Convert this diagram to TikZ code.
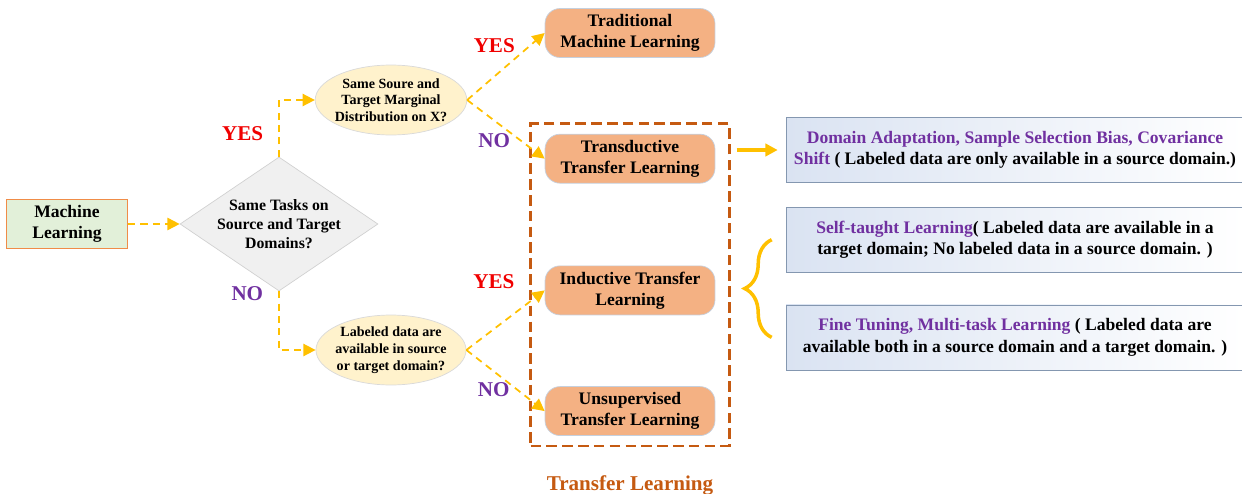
\documentclass[tikz,border=0pt]{standalone}
\usepackage{fontspec}
\setmainfont{Liberation Serif}
\usetikzlibrary{arrows.meta,positioning,shapes.geometric,fit,decorations.pathreplacing}

\definecolor{flowyellow}{HTML}{FFC000}
\definecolor{boxorange}{HTML}{F4B183}
\definecolor{boxedge}{HTML}{C5D0DE}
\definecolor{mlgreen}{HTML}{E2F0D9}
\definecolor{mledge}{HTML}{F08C48}
\definecolor{askyellow}{HTML}{FFF2CC}
\definecolor{tlbrown}{HTML}{C55A11}
\definecolor{yesred}{HTML}{F00000}
\definecolor{nopurple}{HTML}{7030A0}
\definecolor{noteblue}{HTML}{DAE3F2}
\definecolor{noteedge}{HTML}{8497B0}

\begin{document}
\begin{tikzpicture}[x=0.02cm,y=-0.02cm,>={Triangle[length=7pt,width=7pt]},
    base/.style={font=\bfseries\fontsize{10}{12}\selectfont,align=center},
    mlbox/.style={base,rectangle,draw=mledge,line width=0.8pt,fill=mlgreen,
        minimum width=2.42cm,minimum height=0.98cm},
    decision/.style={diamond,draw=black!18,fill=black!6,inner sep=0pt,shape aspect=1.48,
        minimum width=3.96cm,minimum height=2.68cm,
        font=\bfseries\fontsize{9}{11}\selectfont,align=center},
    ask/.style={ellipse,draw=black!15,fill=askyellow,inner sep=-1.5pt,
        minimum width=2.96cm,minimum height=1.4cm,
        font=\bfseries\fontsize{8}{9.5}\selectfont,align=center},
    learn/.style={base,rectangle,rounded corners=0.3cm,draw=boxedge,fill=boxorange,
        minimum width=3.4cm,minimum height=0.98cm},
    note/.style={base,rectangle,draw=noteedge,left color=noteblue,right color=white,
        minimum width=9.16cm,minimum height=1.3cm},
    frame/.style={draw=tlbrown,line width=1.6pt,dash pattern=on 6pt off 3pt,
        inner xsep=0.28cm,inner ysep=0.2cm},
    flow/.style={->,draw=flowyellow,line width=1pt,dash pattern=on 4pt off 3pt},
    yes/.style={text=yesred,font=\bfseries\fontsize{12}{14}\selectfont,inner sep=0pt},
    no/.style={text=nopurple,font=\bfseries\fontsize{12}{14}\selectfont,inner sep=0pt}]

  \useasboundingbox (0,0) rectangle (1242,494);

  \node[mlbox]    (ml)    at (67,224)  {Machine\\Learning};
  \node[decision] (task)  at (279,224) {Same Tasks on\\Source and Target\\Domains?};
  \node[ask]      (q1)    at (391,100) {Same Soure and\\Target Marginal\\Distribution on X?};
  \node[ask]      (q2)    at (391,350) {Labeled data are\\available in source\\or target domain?};

  \node[learn] (trad)  at (630,33)         {Traditional\\Machine Learning};
  \node[learn] (trans) [below=1.52cm of trad]  {Transductive\\Transfer Learning};
  \node[learn] (ind)   [below=1.64cm of trans] {Inductive Transfer\\Learning};
  \node[learn] (uns)   [below=1.42cm of ind]   {Unsupervised\\Transfer Learning};

  \node[frame,fit=(trans)(uns)] (tl) {};
  \node[text=tlbrown,font=\bfseries\fontsize{12}{14}\selectfont,inner sep=0pt]
      (tllabel) [below=0.56cm of tl] {Transfer Learning};

  \node[note] (da) at (1015,150)
      {\textcolor{nopurple}{Domain Adaptation, Sample Selection Bias, Covariance}\\
       \textcolor{nopurple}{Shift} ( Labeled data are only available in a source domain.)};
  \node[note] (st) [below=0.48cm of da]
      {\textcolor{nopurple}{Self-taught Learning}( Labeled data are available in a\\
       target domain; No labeled data in a source domain. )};
  \node[note] (ft) [below=0.64cm of st]
      {\textcolor{nopurple}{Fine Tuning, Multi-task Learning} ( Labeled data are\\
       available both in a source domain and a target domain. )};

  % decisions
  \draw[flow] (ml) -- (task);
  \draw[flow] (task.north) |- node[yes,pos=0.2,left=0.3cm] {YES} (q1.west);
  \draw[flow] (task.south) |- node[no,pos=0.02,left=0.3cm] {NO} (q2.west);
  \draw[flow] (q1.east) -- node[yes,pos=0.35,above=0.45cm] {YES} (trad.west);
  \draw[flow] (q1.east) -- node[no,pos=0.35,below=0.25cm] {NO} (trans.west);
  \draw[flow] (q2.east) -- node[yes,pos=0.35,above=0.8cm] {YES} (ind.west);
  \draw[flow] (q2.east) -- node[no,pos=0.35,below=0.2cm] {NO} (uns.west);

  \draw[->,flowyellow,line width=2pt,shorten <=0.12cm,shorten >=0.16cm]
      (da.west -| tl.east) -- (da.west);
  \draw[flowyellow,line width=2pt,decorate,decoration={brace,amplitude=0.54cm}]
      ([xshift=-0.28cm]ft.west) -- ([xshift=-0.28cm]st.west);
\end{tikzpicture}
\end{document}
